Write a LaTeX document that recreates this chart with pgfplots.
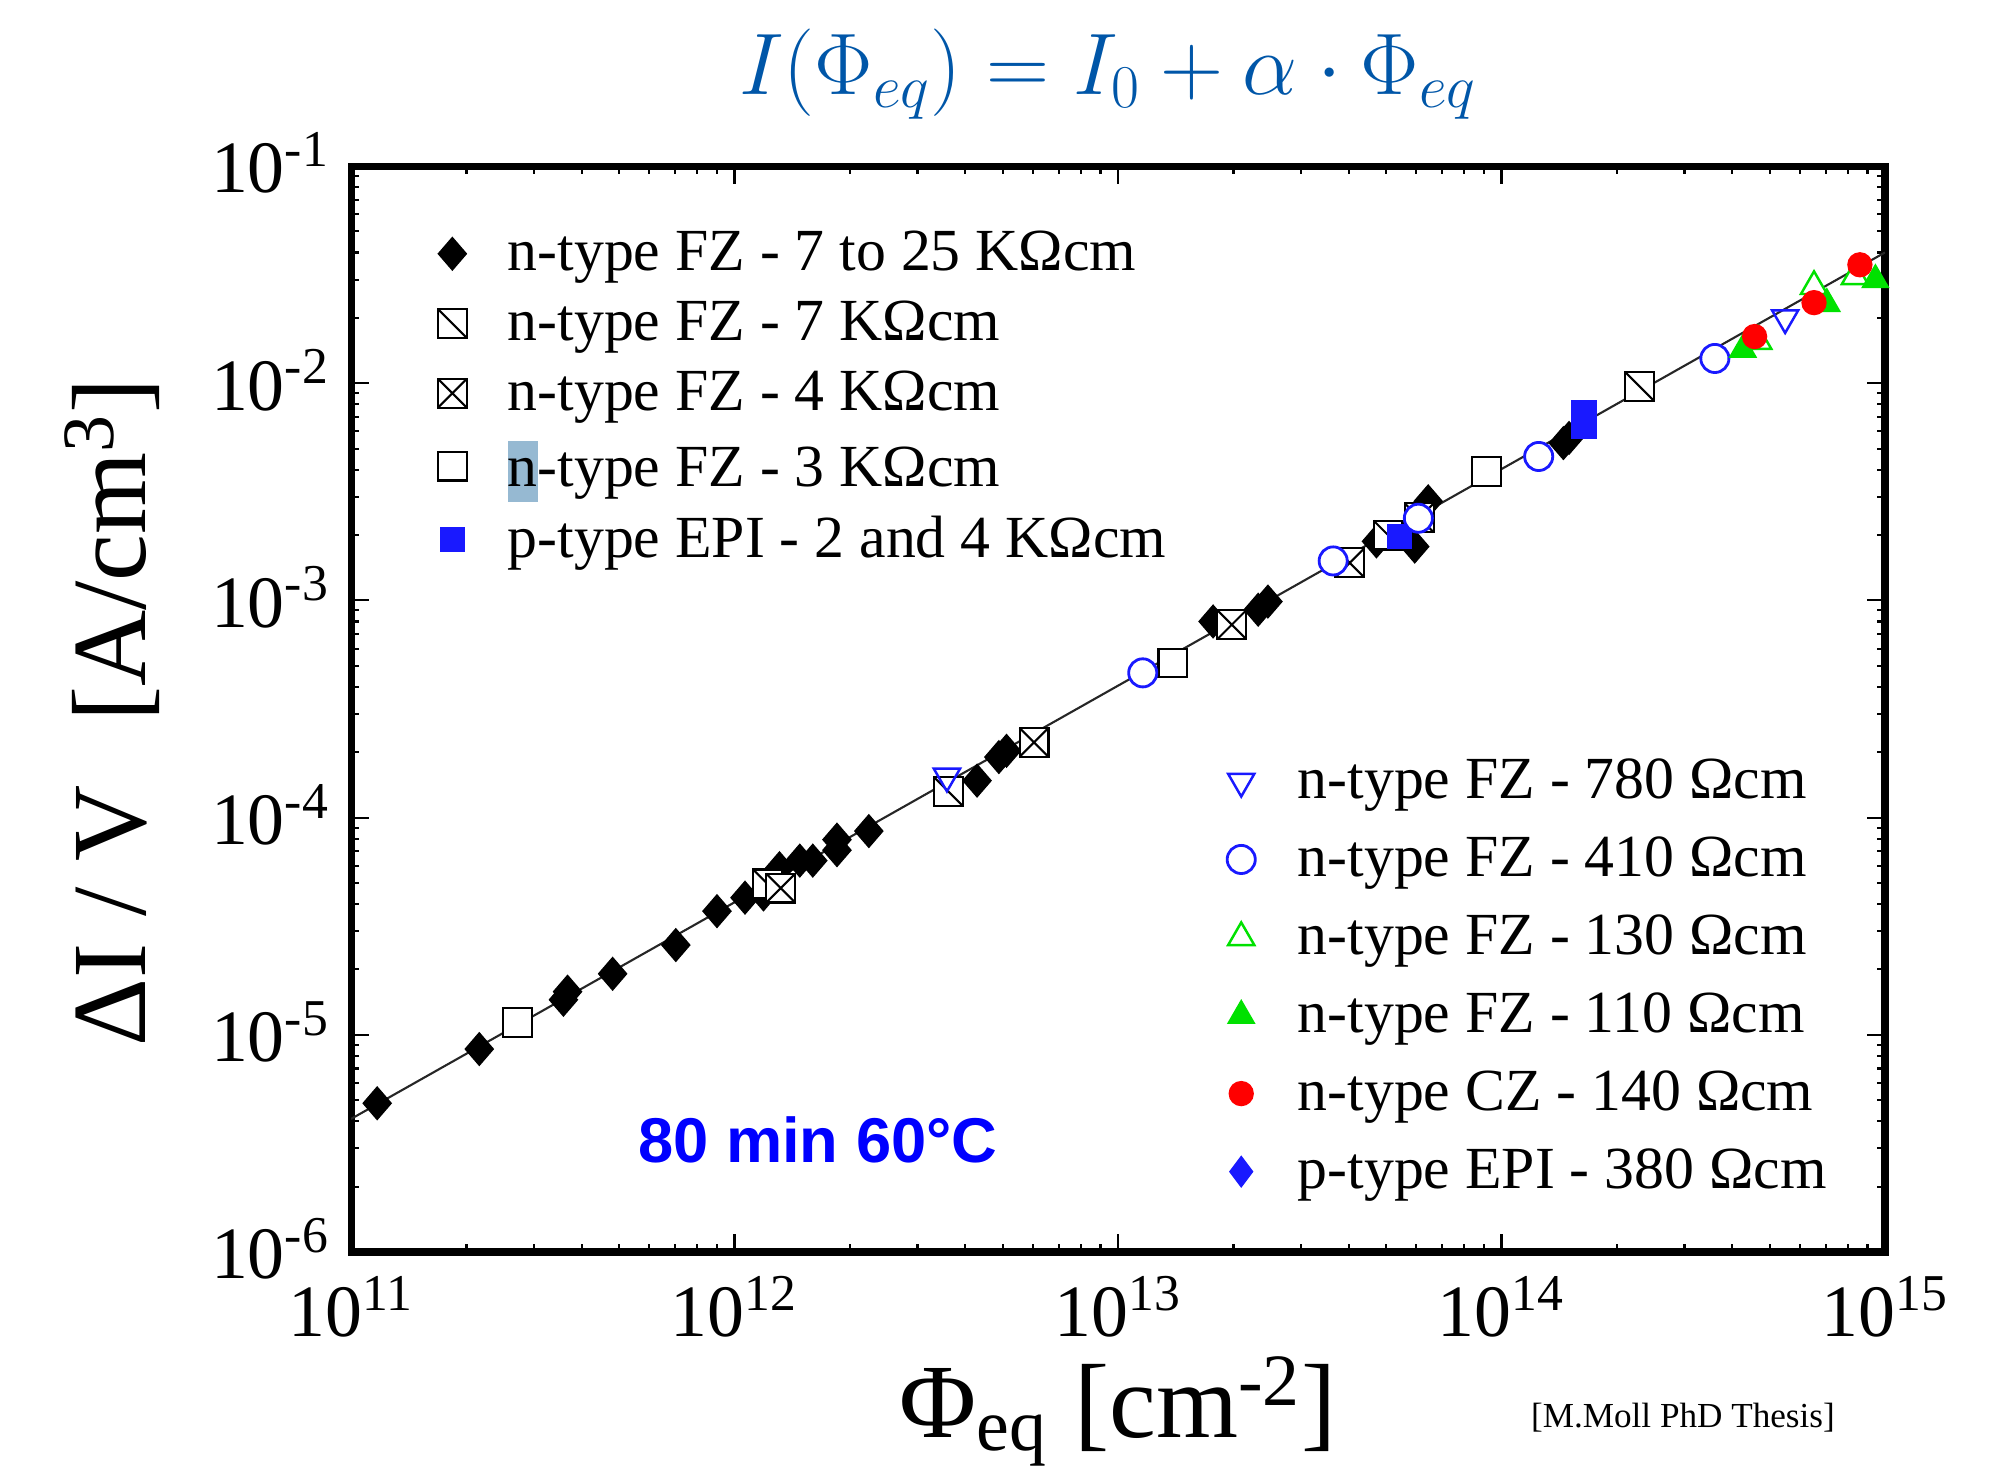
\documentclass[border=0pt]{standalone}
\usepackage{pgfplots}
\pgfplotsset{compat=1.18}
\usepackage{fontspec}
\setmainfont{Liberation Serif}
\newfontfamily\arialf{Liberation Sans}
\definecolor{eqblue}{RGB}{0,86,168}
\definecolor{mblue}{RGB}{25,25,255}
\definecolor{mgreen}{RGB}{0,225,0}
\definecolor{mred}{RGB}{255,0,0}
\definecolor{hl}{RGB}{150,185,210}

\pgfdeclareplotmark{sqdiag}{%
  \pgfpathrectangle{\pgfqpoint{-\pgfplotmarksize}{-\pgfplotmarksize}}{\pgfqpoint{2\pgfplotmarksize}{2\pgfplotmarksize}}%
  \pgfusepathqfillstroke
  \pgfpathmoveto{\pgfqpoint{-\pgfplotmarksize}{\pgfplotmarksize}}%
  \pgfpathlineto{\pgfqpoint{\pgfplotmarksize}{-\pgfplotmarksize}}%
  \pgfusepathqstroke}
\pgfdeclareplotmark{sqcross}{%
  \pgfpathrectangle{\pgfqpoint{-\pgfplotmarksize}{-\pgfplotmarksize}}{\pgfqpoint{2\pgfplotmarksize}{2\pgfplotmarksize}}%
  \pgfusepathqfillstroke
  \pgfpathmoveto{\pgfqpoint{-\pgfplotmarksize}{\pgfplotmarksize}}%
  \pgfpathlineto{\pgfqpoint{\pgfplotmarksize}{-\pgfplotmarksize}}%
  \pgfpathmoveto{\pgfqpoint{-\pgfplotmarksize}{-\pgfplotmarksize}}%
  \pgfpathlineto{\pgfqpoint{\pgfplotmarksize}{\pgfplotmarksize}}%
  \pgfusepathqstroke}

\begin{document}
\begin{tikzpicture}
\begin{axis}[
  xmode=log, ymode=log,
  scale only axis, width=153.4mm, height=108.6mm,
  xmin=1e11, xmax=1e15, ymin=1e-6, ymax=1e-1,
  clip mode=individual,
  legend cell align=left,
  legend image code/.code={\draw[mark repeat=2,mark phase=2,#1] plot coordinates {(0cm,0cm) (0.2cm,0cm) (0.4cm,0cm)};},
  xtick={1e11,1e12,1e13,1e14,1e15},
  xticklabels={10\textsuperscript{11},10\textsuperscript{12},10\textsuperscript{13},10\textsuperscript{14},10\textsuperscript{15}},
  ytick={1e-6,1e-5,1e-4,1e-3,1e-2,1e-1},
  yticklabels={10\textsuperscript{-6},10\textsuperscript{-5},10\textsuperscript{-4},10\textsuperscript{-3},10\textsuperscript{-2},10\textsuperscript{-1}},
  minor xtick={2e11,3e11,4e11,5e11,6e11,7e11,8e11,9e11,2e12,3e12,4e12,5e12,6e12,7e12,8e12,9e12,2e13,3e13,4e13,5e13,6e13,7e13,8e13,9e13,2e14,3e14,4e14,5e14,6e14,7e14,8e14,9e14},
  minor ytick={2e-6,3e-6,4e-6,5e-6,6e-6,7e-6,8e-6,9e-6,2e-5,3e-5,4e-5,5e-5,6e-5,7e-5,8e-5,9e-5,2e-4,3e-4,4e-4,5e-4,6e-4,7e-4,8e-4,9e-4,2e-3,3e-3,4e-3,5e-3,6e-3,7e-3,8e-3,9e-3,2e-2,3e-2,4e-2,5e-2,6e-2,7e-2,8e-2,9e-2},
  tick label style={font=\fontsize{21}{25}\selectfont},
  xticklabel style={yshift=-1.15mm},
  yticklabel style={xshift=-0.9mm, yshift=0.3mm},
  major tick length=1.8mm, minor tick length=0.8mm,
  tick style={black, line width=0.6pt},
  axis line style={line width=2pt},
  xlabel={Φ\textsubscript{eq} [cm\textsuperscript{-2}]},
  xlabel style={font=\fontsize{30}{34}\selectfont, at={(axis description cs:0.5,-0.147)}, anchor=center, overlay},
  ylabel={ΔI / V\hspace{0.6em}[A/cm\textsuperscript{3}]},
  ylabel style={font=\fontsize{30}{34}\selectfont, at={(axis description cs:-0.1558,0.497)}, anchor=center, overlay},
  legend style={at={(rel axis cs:0.0562,0.9405)}, anchor=north west, draw=none, fill=none, inner sep=0pt,
    font=\fontsize{17}{20}\selectfont, row sep=7.1pt, column sep=4.1mm, nodes={inner sep=0pt}},
]
\path (rel axis cs:-0.2288,-0.2007) rectangle (rel axis cs:1.0776,1.1529);
\addplot[black!85, line width=0.6pt, no marks, forget plot] coordinates {(1e11,4.1e-6) (1e15,4.0e-2)};

\addplot[only marks, mark=diamond*, mark size=4.6pt, draw=black, fill=black, mark options={xscale=1.15}] coordinates {
(1.17e11,4.84e-6) (2.16e11,8.6e-6) (3.58e11,1.45e-5) (3.67e11,1.58e-5) (4.81e11,1.91e-5)
(7.03e11,2.59e-5) (9.0e11,3.71e-5) (1.065e12,4.28e-5) (1.19e12,4.43e-5) (1.31e12,5.85e-5)
(1.48e12,6.34e-5) (1.6e12,6.34e-5) (1.85e12,7.08e-5) (1.85e12,7.92e-5) (2.24e12,8.67e-5)
(4.29e12,1.48e-4) (4.89e12,1.9e-4) (5.12e12,2.03e-4) (1.77e13,8.0e-4) (2.32e13,9.06e-4)
(2.46e13,9.88e-4) (4.72e13,1.87e-3) (5.94e13,1.77e-3) (6.44e13,2.86e-3) (1.45e14,5.3e-3) (1.5e14,5.6e-3)};
\addlegendentry{n-type FZ - 7 to 25 KΩcm}

\addplot[only marks, mark=sqdiag, mark size=4.1pt, draw=black, fill=white, line width=0.6pt] coordinates {
(1.22e12,4.95e-5) (3.61e12,1.32e-4) (5.06e13,2.0e-3) (2.29e14,9.66e-3)};
\addlegendentry{n-type FZ - 7 KΩcm}

\addplot[only marks, mark=sqcross, mark size=4.1pt, draw=black, fill=white, line width=0.6pt] coordinates {
(1.32e12,4.74e-5) (6.04e12,2.22e-4) (1.98e13,7.73e-4) (4.02e13,1.49e-3) (6.1e13,2.4e-3)};
\addlegendentry{n-type FZ - 4 KΩcm}

\addplot[only marks, mark=square*, mark size=4.1pt, draw=black, fill=white, line width=0.6pt] coordinates {
(2.72e11,1.14e-5) (1.39e13,5.15e-4) (9.14e13,3.93e-3)};
\addlegendentry{{\setlength{\fboxsep}{0pt}\colorbox{hl}{\rule[-0.26em]{0pt}{1.02em}n}}-type FZ - 3 KΩcm}

\addplot[only marks, mark=square*, mark size=3.4pt, draw=mblue, fill=mblue] coordinates {
(5.43e13,1.97e-3) (1.64e14,7.3e-3) (1.64e14,6.3e-3)};
\addlegendentry{p-type EPI - 2 and 4 KΩcm}

\node[font=\fontsize{27}{31}\selectfont, text=eqblue, overlay] at (rel axis cs:0.4935,1.085)
  {$I\Bigl(\Phi_{eq}\Bigr) = I_0 + \alpha\cdot\Phi_{eq}$};
\node[font=\arialf\bfseries\fontsize{18}{22}\selectfont, text=blue] at (rel axis cs:0.3044,0.1031) {80 min 60°C};
\node[font=\fontsize{10}{12}\selectfont, overlay] at (rel axis cs:0.8683,-0.1529) {[M.Moll PhD Thesis]};
\end{axis}

\begin{axis}[
  xmode=log, ymode=log,
  scale only axis, width=153.4mm, height=108.6mm,
  xmin=1e11, xmax=1e15, ymin=1e-6, ymax=1e-1,
  clip mode=individual,
  hide axis,
  legend cell align=left,
  legend image code/.code={\draw[mark repeat=2,mark phase=2,#1] plot coordinates {(0cm,0cm) (0.2cm,0cm) (0.4cm,0cm)};},
  legend style={at={(rel axis cs:0.5707,0.4547)}, anchor=north west, draw=none, fill=none, inner sep=0pt,
    font=\fontsize{17}{20}\selectfont, row sep=9.4pt, column sep=4.25mm, nodes={inner sep=0pt}},
]
\addplot[only marks, mark=triangle, mark size=4.3pt, draw=mblue, line width=0.7pt, mark options={rotate=180}] coordinates {
(3.58e12,1.55e-4) (5.49e14,2.0e-2)};
\addlegendentry{n-type FZ - 780 Ωcm}

\addplot[only marks, mark=*, mark size=4pt, draw=mblue, fill=white, line width=0.8pt] coordinates {
(1.16e13,4.64e-4) (3.64e13,1.52e-3) (6.07e13,2.39e-3) (1.25e14,4.6e-3) (3.6e14,1.30e-2)};
\addlegendentry{n-type FZ - 410 Ωcm}

\addplot[only marks, mark=triangle*, mark size=4.3pt, draw=mgreen, fill=white, line width=0.7pt] coordinates {
(4.67e14,1.56e-2) (6.53e14,2.79e-2) (8.35e14,3.1e-2)};
\addlegendentry{n-type FZ - 130 Ωcm}

\addplot[only marks, mark=triangle*, mark size=4.3pt, draw=mgreen, fill=mgreen] coordinates {
(4.26e14,1.43e-2) (7.05e14,2.32e-2) (9.44e14,2.99e-2)};
\addlegendentry{n-type FZ - 110 Ωcm}

\addplot[only marks, mark=*, mark size=3.4pt, draw=mred, fill=mred] coordinates {
(4.57e14,1.64e-2) (6.53e14,2.35e-2) (8.6e14,3.51e-2)};
\addlegendentry{n-type CZ - 140 Ωcm}

\addlegendimage{only marks, mark=diamond*, mark size=4.3pt, draw=mblue, fill=mblue}
\addlegendentry{p-type EPI - 380 Ωcm}
\end{axis}
\end{tikzpicture}
\end{document}
